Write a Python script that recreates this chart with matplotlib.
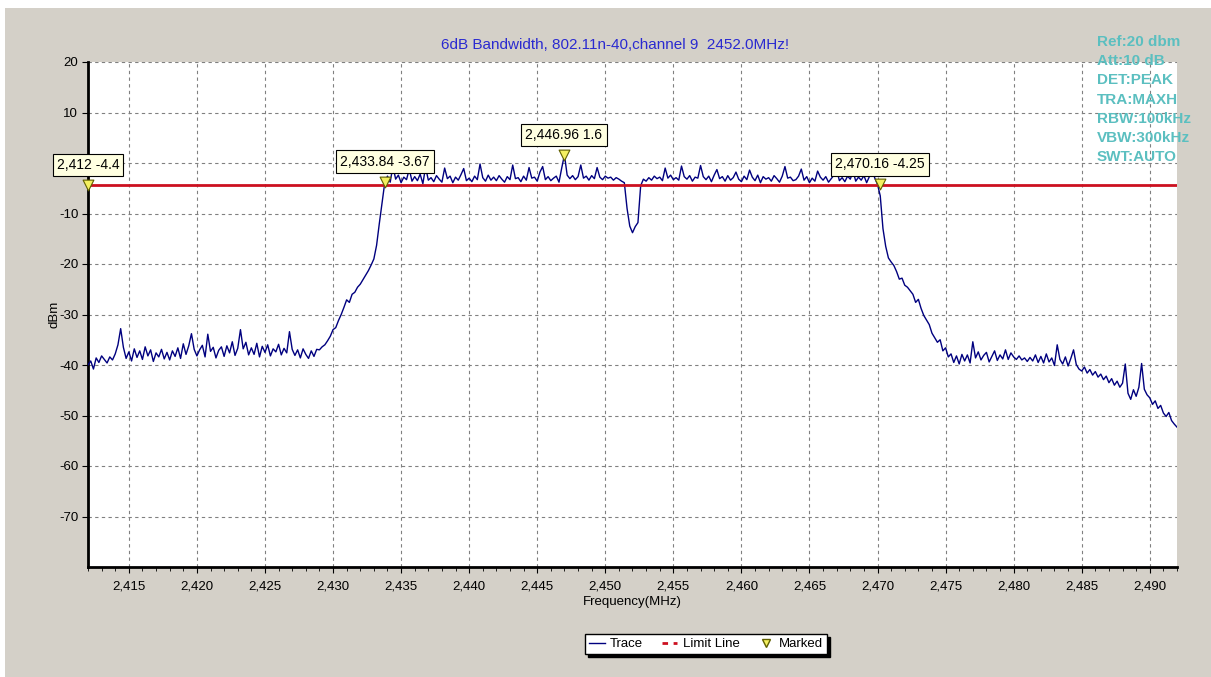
import numpy as np
import matplotlib
matplotlib.use("Agg")
import matplotlib.pyplot as plt
from matplotlib.patches import Rectangle
from matplotlib.lines import Line2D
from matplotlib.ticker import MultipleLocator, FuncFormatter

plt.rcParams['font.family'] = ['Liberation Sans', 'DejaVu Sans']
plt.rcParams['font.size'] = 9
plt.rcParams['axes.unicode_minus'] = False

# sweep: 2412 .. 2492 MHz, 0.2 MHz per point
f_start = 2412.0
f_step = 0.2

# noise floor below the channel (2412.0 .. 2428.8)
floor_lo = [
    -40.0, -39.2, -40.8, -38.6, -39.5, -38.2, -38.9, -39.6, -38.4, -39.0,
    -37.8, -36.0, -32.8, -36.5, -38.7, -37.4, -39.2, -36.8, -38.5, -37.2,
    -38.9, -36.4, -38.2, -37.0, -39.3, -37.6, -38.4, -36.9, -38.8, -37.5,
    -39.0, -37.2, -38.3, -36.6, -38.7, -35.8, -37.9, -36.2, -33.8, -36.9,
    -38.2, -37.0, -36.1, -38.4, -33.9, -37.3, -36.5, -38.6, -37.1, -36.4,
    -38.3, -36.2, -37.6, -35.4, -38.1, -36.7, -33.0, -36.8, -35.5, -38.0,
    -36.6, -37.9, -35.7, -38.4, -36.3, -37.5, -36.0, -38.2, -36.8, -37.4,
    -35.9, -38.0, -36.7, -37.6, -33.4, -36.9, -38.1, -37.0, -38.6, -36.8,
    -37.9, -38.7, -37.2, -38.3, -36.9,
]
# lower skirt (2429.0 .. 2433.8)
rise_lo = [
    -37.0, -36.4, -36.0, -35.2, -34.3, -33.0, -32.6, -31.2, -30.0, -28.6,
    -27.1, -27.6, -26.0, -25.6, -24.6, -24.0, -23.1, -22.2, -21.3, -20.2,
    -19.0, -16.3, -12.0, -8.0, -3.9,
]
# occupied band (2434.0 .. 2469.8)
passband = [
    -2.6, -3.8, -0.6, -3.2, -2.4, -3.9, -2.8, -3.3, -1.2, -3.6,
    -2.7, -3.5, -2.2, -4.1, -0.8, -3.4, -2.9, -3.7, -2.5, -3.2,
    -3.8, -1.0, -3.1, -2.6, -3.9, -2.8, -3.4, -2.3, -1.1, -3.5,
    -3.0, -3.7, -2.6, -3.3, -0.2, -2.9, -3.6, -2.4, -3.4, -2.8,
    -3.5, -2.5, -3.2, -3.8, -2.7, -3.3, -0.4, -3.1, -2.9, -3.7,
    -2.6, -3.4, -0.9, -3.0, -2.8, -3.6, -1.8, -0.7, -3.3, -2.7,
    -3.5, -3.0, -2.6, -3.8, -1.0, 1.6, -2.4, -3.1, -2.5, -3.3,
    -2.7, -0.4, -3.0, -2.6, -3.4, -2.5, -3.1, -0.9, -2.8, -3.3,
    -2.6, -3.0, -2.8, -3.4, -2.9, -3.2, -3.6, -3.9, -9.0, -12.5,
    -13.8, -12.6, -11.8, -4.5, -3.2, -3.6, -2.9, -3.4, -2.6, -3.1,
    -2.8, -3.5, -1.0, -3.0, -2.4, -3.3, -2.9, -3.4, -0.6, -2.7,
    -3.2, -2.5, -3.6, -2.8, -3.0, -0.5, -2.7, -3.3, -2.6, -3.7,
    -2.4, -1.3, -3.1, -2.7, -3.6, -2.5, -3.4, -2.9, -1.8, -3.2,
    -3.7, -2.6, -3.3, -1.4, -2.8, -3.5, -2.4, -3.9, -2.7, -3.2,
    -2.9, -3.6, -2.5, -3.1, -3.8, -2.6, -0.7, -3.0, -2.8, -3.5,
    -3.3, -2.6, -1.2, -3.4, -2.7, -3.9, -3.0, -3.6, -1.6, -2.8,
    -3.4, -2.7, -3.8, -3.1, -2.4, -1.4, -3.5, -2.9, -3.7, -2.6,
    -3.2, -1.6, -3.6, -2.8, -3.4, -2.5, -3.9, -2.7, -1.3, -3.0,
]
# upper skirt and floor (2470.0 .. 2492.0)
fall_hi = [
    -4.25, -6.5, -13.0, -16.5, -18.8, -19.6, -20.3, -21.5, -23.0, -22.8,
    -24.2, -24.6, -25.3, -26.0, -27.6, -27.0, -28.8, -30.2, -31.1, -32.0,
    -33.7, -34.6, -35.5, -35.0, -37.2, -36.6, -38.4, -37.8, -39.5, -38.2,
    -39.8, -37.9, -39.2, -38.0, -39.6, -35.4, -38.6, -37.4, -39.0, -38.1,
    -37.5, -39.4, -38.3, -37.2, -39.1, -38.0, -38.8, -37.0, -38.9, -37.6,
    -38.4, -38.9, -38.2, -39.0, -38.6, -39.3, -38.5, -39.2, -38.0, -39.5,
    -38.3, -39.6, -37.8, -39.4, -38.6, -40.1, -36.0, -38.9, -39.8, -38.4,
    -40.2, -38.7, -37.0, -39.9, -40.8, -41.2, -40.4, -41.6, -40.9, -42.0,
    -41.3, -42.4, -41.8, -42.9, -42.2, -43.5, -42.7, -44.0, -43.2, -44.4,
    -43.6, -39.8, -45.6, -46.8, -44.9, -46.2, -44.4, -39.7, -44.8, -45.9,
    -46.5, -47.8, -47.1, -48.6, -48.0, -49.5, -50.2, -49.4, -51.0, -51.7,
    -52.3,
]

trace = np.array(floor_lo + rise_lo + passband + fall_hi)
freq = f_start + f_step * np.arange(len(trace))

# markers
mark_freq = [2412.0, 2433.84, 2446.96, 2470.16]
mark_level = [-4.4, -3.67, 1.6, -4.25]
limit_level = -4.4

title = "6dB Bandwidth, 802.11n-40,channel 9  2452.0MHz!"
settings = ["Ref:20 dbm", "Att:10 dB", "DET:PEAK", "TRA:MAXH",
            "RBW:100kHz", "VBW:300kHz", "SWT:AUTO"]

W, H = 1211, 677
fig = plt.figure(figsize=(W / 100, H / 100), dpi=100, facecolor='white')
fig.patches.append(Rectangle((5 / W, 0), 1 - 5 / W, 1 - 8 / H,
                             transform=fig.transFigure, facecolor='#d4d0c8',
                             edgecolor='none', zorder=-10))

ax = fig.add_axes([88 / W, 1 - 567 / H, (1177 - 88) / W, (567 - 62) / H])
ax.set_facecolor('white')
ax.set_xlim(2412, 2492)
ax.set_ylim(-80, 20)

ax.plot(freq, trace, color='#00007f', lw=1.0, zorder=3)
ax.axhline(limit_level, color='#cc1020', lw=2.0, zorder=4)
ax.scatter(mark_freq, mark_level, marker='v', s=60, facecolor='#f4f060',
           edgecolor='#606000', linewidths=0.8, zorder=6, clip_on=False)

for fx, lv in zip(mark_freq, mark_level):
    ax.annotate(f"{fx:,g} {lv:g}", xy=(fx, lv), xytext=(0, 20),
                textcoords='offset pixels', ha='center', va='center',
                fontsize=10, zorder=7,
                bbox=dict(boxstyle='square,pad=0.3', facecolor='#ffffe1',
                          edgecolor='black', linewidth=0.8))

ax.set_yticks(np.arange(-70, 21, 10))
ax.xaxis.set_major_locator(MultipleLocator(5))
ax.xaxis.set_minor_locator(MultipleLocator(1))
ax.xaxis.set_major_formatter(FuncFormatter(lambda v, p: f"{v:,.0f}"))
ax.grid(True, which='major', color='#808080', lw=0.8, ls=(0, (3, 3)))
ax.tick_params(axis='both', which='major', length=4, width=0.8,
               labelsize=9.5, pad=3)
ax.tick_params(axis='x', which='minor', length=3, width=0.6)
ax.tick_params(axis='x', pad=6)

for side in ('top', 'right'):
    ax.spines[side].set_visible(False)
for side in ('left', 'bottom'):
    ax.spines[side].set_linewidth(2)

ax.set_xlabel("Frequency(MHz)", fontsize=9.5, labelpad=2)
ax.set_ylabel("dBm", fontsize=9.5, labelpad=-1)

fig.text(615 / W, 1 - 45 / H, title, ha='center', va='center',
         color='#2a2ad0', fontsize=11)
fig.text(1097 / W, 1 - 35 / H, "\n".join(settings), ha='left', va='top',
         color='#5bbfc0', fontsize=11, fontweight='bold', linespacing=1.47,
         zorder=10)

handles = [
    Line2D([], [], color='#00007f', lw=1),
    Line2D([], [], color='#cc1020', lw=2, ls=(0, (2, 2))),
    Line2D([], [], marker='v', ls='none', markersize=6,
           markerfacecolor='#f4f060', markeredgecolor='#606000'),
]
fig.legend(handles, ["Trace", "Limit Line", "Marked"], ncol=3,
           loc='center', bbox_to_anchor=(706 / W, 1 - 644 / H),
           fontsize=9.5, frameon=True, fancybox=False, edgecolor='black',
           framealpha=1, handlelength=1.2, handletextpad=0.4,
           columnspacing=1.4, borderpad=0.3,
           shadow={'color': 'black', 'alpha': 1})

fig.savefig("out.png", dpi=100, facecolor=fig.get_facecolor())
